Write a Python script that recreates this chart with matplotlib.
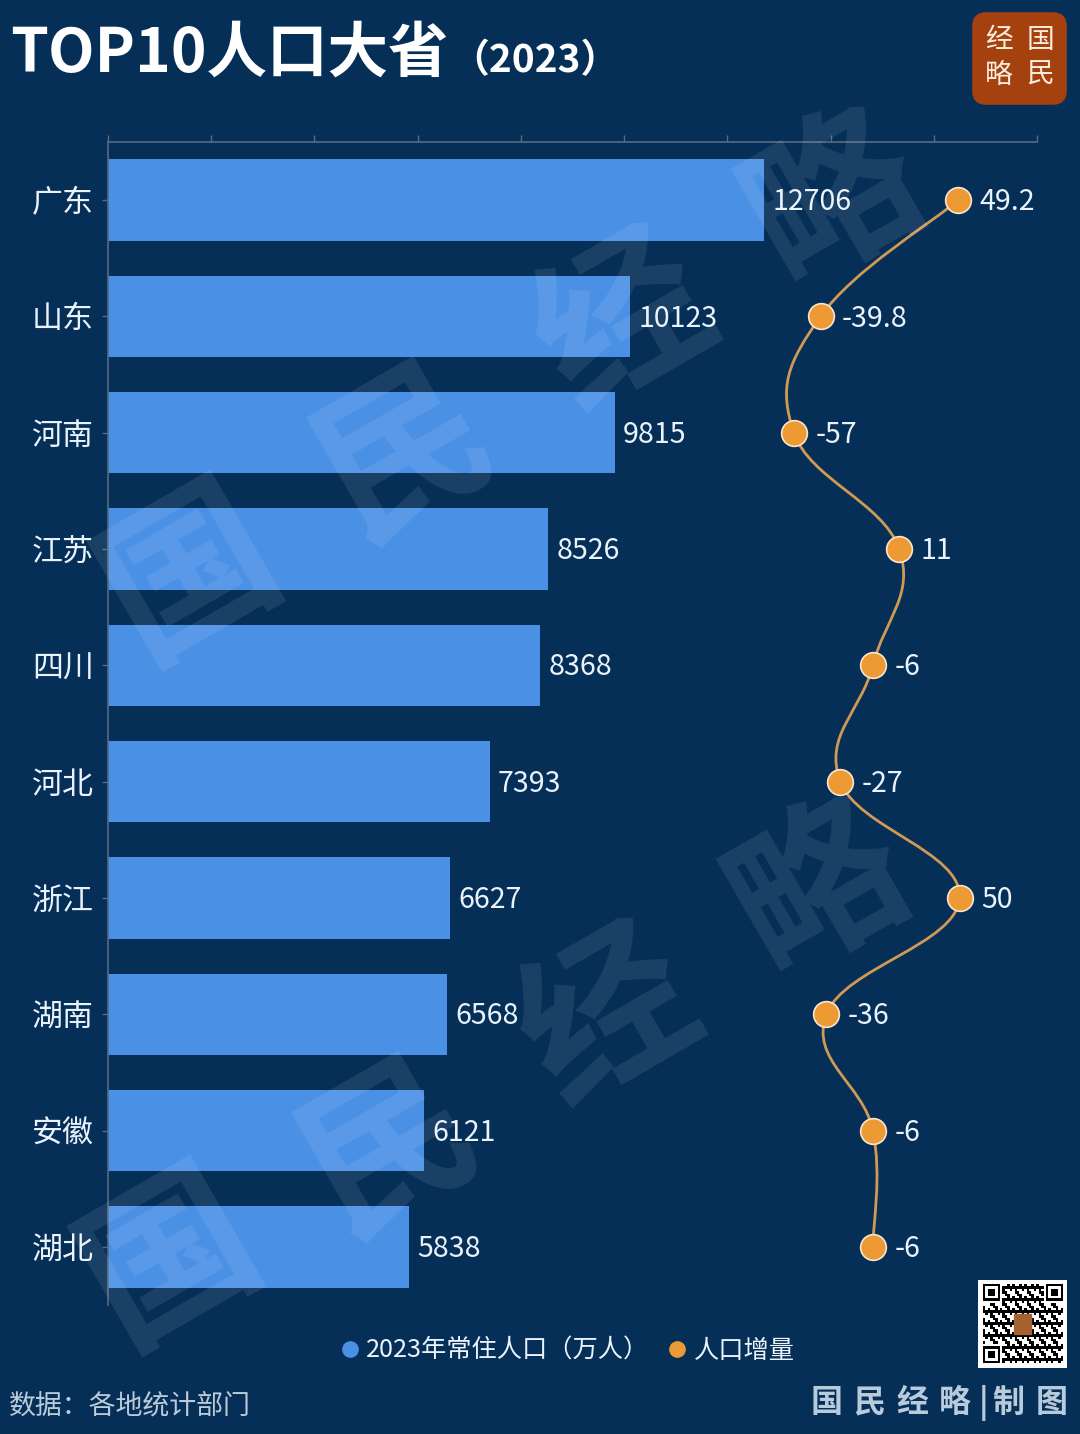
import matplotlib
matplotlib.use('Agg')
import matplotlib.pyplot as plt
import numpy as np
from matplotlib.lines import Line2D
from matplotlib.patches import FancyBboxPatch, PathPatch
from matplotlib.path import Path

plt.rcParams['font.family'] = ['Noto Sans CJK SC', 'DejaVu Sans']

provinces = ['广东', '山东', '河南', '江苏', '四川', '河北', '浙江', '湖南', '安徽', '湖北']
population = [12706, 10123, 9815, 8526, 8368, 7393, 6627, 6568, 6121, 5838]
growth = [49.2, -39.8, -57, 11, -6, -27, 50, -36, -6, -6]
growth_labels = ['49.2', '-39.8', '-57', '11', '-6', '-27', '50', '-36', '-6', '-6']

BG = '#052f57'
BLUE = '#4a90e5'
ORANGE = '#ee9a34'
LINE = '#d09a55'
TEXT = '#eaf3fb'
AXIS = '#566a80'
W, H = 1080, 1434


def px(x, y):
    return x / W, 1 - y / H


fig = plt.figure(figsize=(W / 100, H / 100), dpi=100, facecolor=BG)
ax = fig.add_axes([108 / W, 1 - 1305 / H, 929 / W, 1163 / H], facecolor='none')

# bars
y = np.arange(len(provinces))
ax.barh(y, population, height=0.7, color=BLUE, zorder=2)
ax.set_xlim(0, 18000)
ax.set_ylim(len(provinces) - 0.5, -0.5)
ax.set_yticks(y, provinces)
ax.set_xticks(np.arange(0, 18001, 2000))
for s in ['right', 'bottom']:
    ax.spines[s].set_visible(False)
for s in ['top', 'left']:
    ax.spines[s].set_color(AXIS)
    ax.spines[s].set_linewidth(1.2)

for i, v in enumerate(population):
    ax.annotate(str(v), (v, i), xytext=(6, -1.5), textcoords='offset points', va='center',
                ha='left', fontsize=20.6, color=TEXT, zorder=5)

# growth line on its own x scale
ax2 = ax.twiny()
ax2.set_xlim(-500, 100)
ax2.axis('off')
ax2.patch.set_visible(False)

# twiny resets the tick sides on the main axis
ax.tick_params(axis='x', top=True, bottom=False, labeltop=False, labelbottom=False,
               length=5, width=1, color=AXIS)
ax.tick_params(axis='y', length=4, width=1, color=AXIS, pad=6, labelsize=22.3, labelcolor=TEXT)

# smooth curve through the points, drawn in pixel space so the bends look right
pts = ax2.transData.transform(np.column_stack([growth, y]))
smooth = 0.2
verts = [pts[0]]
codes = [Path.MOVETO]
for i in range(len(pts) - 1):
    prev_p = pts[max(i - 1, 0)]
    next_p = pts[min(i + 2, len(pts) - 1)]
    verts.append(pts[i] + (pts[i + 1] - prev_p) * smooth)
    verts.append(pts[i + 1] - (next_p - pts[i]) * smooth)
    verts.append(pts[i + 1])
    codes += [Path.CURVE4] * 3
ax2.add_patch(PathPatch(Path(verts, codes), transform=None, fill=False, edgecolor=LINE,
                        linewidth=2, zorder=3))
ax2.plot(growth, y, 'o', ms=18.5, mfc=ORANGE, mec='#f7e6cf', mew=1.2, zorder=4)
for i, v in enumerate(growth):
    ax2.annotate(growth_labels[i], (v, i), xytext=(15.5, -1.5), textcoords='offset points',
                 va='center', ha='left', fontsize=20.6, color=TEXT, zorder=5)

# watermark
marks = [('国', 190, 575), ('民', 405, 455), ('经', 625, 325), ('略', 835, 200),
         ('国', 170, 1260), ('民', 390, 1150), ('经', 610, 1020), ('略', 820, 890)]
for ch, mx, my in marks:
    fx, fy = px(mx, my)
    fig.text(fx, fy, ch, fontsize=122, fontweight='bold', color='white', alpha=0.09,
             rotation=30, ha='center', va='center', zorder=6)

# title
fx, fy = px(10, 54)
fig.text(fx, fy, 'TOP10人口大省', fontsize=43.6, fontweight='bold', color='white', va='center')
fx, fy = px(450, 61)
fig.text(fx, fy, '（2023）', fontsize=28, fontweight='bold', color='white', va='center')

# logo
logo = FancyBboxPatch(px(975, 102), 89 / W, 87 / H, boxstyle='round,pad=0,rounding_size=0.01',
                      transform=fig.transFigure, facecolor='#a5410f', edgecolor='#a5410f', lw=4,
                      mutation_aspect=W / H)
fig.add_artist(logo)
for ch, lx, ly in [('经', 999, 40), ('国', 1040, 40), ('略', 999, 75), ('民', 1040, 75)]:
    fx, fy = px(lx, ly)
    fig.text(fx, fy, ch, fontsize=20, color='#fbeedd', ha='center', va='center')

# legend
handles = [Line2D([], [], ls='', marker='o', ms=11, color=BLUE),
           Line2D([], [], ls='', marker='o', ms=11, color=ORANGE)]
fig.legend(handles, ['2023年常住人口（万人）', '人口增量'], loc='center', bbox_to_anchor=px(566, 1351),
           ncol=2, frameon=False, fontsize=18.2, labelcolor=TEXT, handletextpad=0.15,
           columnspacing=0.6, handlelength=1.0)

# footer
fx, fy = px(9, 1406)
fig.text(fx, fy, '数据：各地统计部门', fontsize=19.4, color='#bccbda', va='center')
for ch, lx in zip('国民经略', [827, 869, 912, 955]):
    fx, fy = px(lx, 1403)
    fig.text(fx, fy, ch, fontsize=23, fontweight='bold', color='#b8cbdc', ha='center', va='center')
for ch, lx in zip('|制图', [984, 1008, 1052]):
    fx, fy = px(lx, 1403)
    fig.text(fx, fy, ch, fontsize=23, fontweight='bold', color='#b8cbdc', ha='center', va='center')

# QR style block
n = 33
qr = np.array([[(i * i + 3 * j + i * j * 2) % 5 < 2 for j in range(n)] for i in range(n)], dtype=float)
for r, c in [(0, 0), (0, n - 7), (n - 7, 0)]:
    qr[max(r - 1, 0):r + 8, max(c - 1, 0):c + 8] = 0
    qr[r:r + 7, c:c + 7] = 1
    qr[r + 1:r + 6, c + 1:c + 6] = 0
    qr[r + 2:r + 5, c + 2:c + 5] = 1
x0, y0 = px(978, 1368)
qax = fig.add_axes([x0, y0, 89 / W, 88 / H])
qax.add_patch(plt.Rectangle((-2, -2), n + 4, n + 4, color='white', zorder=0))
qax.imshow(1 - qr, cmap='gray', vmin=0, vmax=1, extent=(0, n, n, 0),
           interpolation='nearest', aspect='auto', zorder=1)
qax.add_patch(plt.Rectangle((13, 12.5), 7, 8, color='#a5612f', zorder=3))
qax.set_xlim(-2, n + 2)
qax.set_ylim(n + 2, -2)
qax.axis('off')

fig.savefig('out.png', dpi=100, facecolor=BG)
